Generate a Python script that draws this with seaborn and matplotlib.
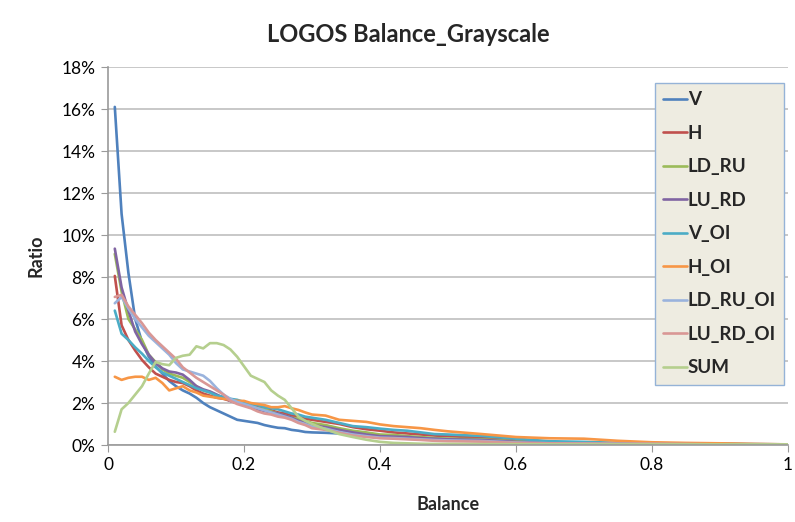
import matplotlib
matplotlib.use("Agg")
import matplotlib.pyplot as plt
import seaborn as sns
import pandas as pd
from matplotlib.ticker import PercentFormatter, FuncFormatter

# balance bins (x) and ratio in % for each orientation
balance = [0.01, 0.02, 0.03, 0.04, 0.05, 0.06, 0.07, 0.08, 0.09, 0.10,
           0.11, 0.12, 0.13, 0.14, 0.15, 0.16, 0.17, 0.18, 0.19, 0.20,
           0.21, 0.22, 0.23, 0.24, 0.25, 0.26, 0.27, 0.28, 0.29, 0.30,
           0.32, 0.34, 0.36, 0.38, 0.40, 0.42, 0.44, 0.46, 0.48, 0.50,
           0.55, 0.60, 0.65, 0.70, 0.75, 0.80, 0.85, 0.90, 0.95, 1.00]

V = [16.1, 11.0, 8.2, 6.0, 4.9, 4.2, 3.75, 3.4, 3.05, 2.8,
     2.6, 2.45, 2.25, 2.0, 1.8, 1.65, 1.5, 1.35, 1.2, 1.15,
     1.1, 1.05, 0.95, 0.88, 0.82, 0.8, 0.72, 0.68, 0.62, 0.6,
     0.58, 0.55, 0.5, 0.42, 0.38, 0.36, 0.34, 0.3, 0.28, 0.28,
     0.24, 0.18, 0.12, 0.1, 0.08, 0.06, 0.05, 0.04, 0.03, 0.02]
H = [8.05, 5.7, 5.0, 4.5, 4.05, 3.7, 3.4, 3.25, 3.1, 3.0,
     2.95, 2.8, 2.6, 2.45, 2.35, 2.25, 2.2, 2.1, 2.0, 1.95,
     1.9, 1.8, 1.7, 1.65, 1.55, 1.5, 1.4, 1.35, 1.25, 1.2,
     1.1, 1.0, 0.85, 0.75, 0.68, 0.6, 0.55, 0.5, 0.45, 0.42,
     0.35, 0.25, 0.12, 0.1, 0.08, 0.07, 0.06, 0.05, 0.04, 0.03]
LD_RU = [9.1, 7.3, 6.0, 5.5, 5.0, 4.3, 3.95, 3.6, 3.4, 3.3,
         3.2, 3.0, 2.8, 2.6, 2.5, 2.35, 2.25, 2.15, 2.05, 1.95,
         1.85, 1.75, 1.7, 1.6, 1.5, 1.4, 1.3, 1.25, 1.15, 1.05,
         0.95, 0.8, 0.68, 0.6, 0.5, 0.48, 0.42, 0.38, 0.33, 0.3,
         0.27, 0.18, 0.1, 0.08, 0.07, 0.06, 0.05, 0.04, 0.03, 0.02]
LU_RD = [9.35, 7.5, 6.4, 5.4, 4.8, 4.3, 3.9, 3.65, 3.5, 3.45,
         3.35, 3.1, 2.8, 2.65, 2.55, 2.4, 2.25, 2.1, 2.0, 1.9,
         1.8, 1.7, 1.62, 1.55, 1.5, 1.4, 1.3, 1.15, 1.05, 0.95,
         0.85, 0.72, 0.6, 0.5, 0.42, 0.4, 0.38, 0.33, 0.3, 0.27,
         0.24, 0.15, 0.1, 0.08, 0.07, 0.06, 0.05, 0.04, 0.03, 0.02]
V_OI = [6.4, 5.3, 5.0, 4.65, 4.35, 4.0, 3.7, 3.45, 3.3, 3.15,
        3.0, 2.85, 2.7, 2.6, 2.5, 2.35, 2.3, 2.2, 2.15, 2.05,
        1.95, 1.9, 1.8, 1.75, 1.7, 1.6, 1.5, 1.45, 1.35, 1.3,
        1.2, 1.05, 0.9, 0.85, 0.78, 0.72, 0.68, 0.6, 0.52, 0.5,
        0.43, 0.3, 0.18, 0.15, 0.1, 0.08, 0.06, 0.05, 0.04, 0.03]
H_OI = [3.25, 3.1, 3.2, 3.25, 3.25, 3.1, 3.2, 2.95, 2.6, 2.7,
        2.8, 2.6, 2.5, 2.35, 2.3, 2.25, 2.2, 2.15, 2.1, 2.1,
        2.0, 1.95, 1.9, 1.8, 1.8, 1.85, 1.75, 1.67, 1.55, 1.45,
        1.4, 1.2, 1.15, 1.1, 0.98, 0.9, 0.85, 0.8, 0.72, 0.65,
        0.52, 0.38, 0.32, 0.3, 0.2, 0.13, 0.1, 0.08, 0.05, 0.03]
LD_RU_OI = [6.75, 7.05, 6.5, 6.0, 5.6, 5.2, 4.9, 4.6, 4.3, 3.9,
            3.6, 3.5, 3.4, 3.3, 3.05, 2.7, 2.4, 2.2, 2.05, 1.95,
            1.85, 1.75, 1.65, 1.55, 1.45, 1.35, 1.25, 1.1, 1.0, 0.88,
            0.78, 0.62, 0.5, 0.42, 0.35, 0.33, 0.3, 0.27, 0.24, 0.22,
            0.19, 0.12, 0.08, 0.07, 0.06, 0.05, 0.04, 0.03, 0.03, 0.02]
LU_RD_OI = [7.05, 7.15, 6.6, 6.2, 5.8, 5.35, 5.0, 4.7, 4.4, 4.1,
            3.7, 3.45, 3.2, 3.0, 2.8, 2.6, 2.4, 2.1, 1.95, 1.85,
            1.75, 1.6, 1.5, 1.45, 1.35, 1.3, 1.2, 1.05, 0.95, 0.8,
            0.72, 0.58, 0.45, 0.38, 0.32, 0.3, 0.27, 0.24, 0.2, 0.18,
            0.16, 0.1, 0.08, 0.07, 0.06, 0.05, 0.04, 0.03, 0.03, 0.02]
SUM = [0.63, 1.7, 2.0, 2.4, 2.8, 3.4, 3.95, 3.85, 3.8, 4.15,
       4.25, 4.3, 4.7, 4.6, 4.85, 4.85, 4.76, 4.55, 4.2, 3.75,
       3.3, 3.15, 3.0, 2.6, 2.35, 2.15, 1.75, 1.35, 1.15, 1.0,
       0.75, 0.52, 0.38, 0.25, 0.15, 0.1, 0.08, 0.06, 0.05, 0.05,
       0.04, 0.04, 0.03, 0.03, 0.03, 0.03, 0.03, 0.03, 0.03, 0.03]

series_names = ["V", "H", "LD_RU", "LU_RD", "V_OI", "H_OI", "LD_RU_OI", "LU_RD_OI", "SUM"]
colors = ["#4F81BD", "#C0504D", "#9BBB59", "#8064A2", "#4BACC6",
          "#F79646", "#9AB3DD", "#D99795", "#B5CF8E"]

wide = pd.DataFrame({"Balance": balance, "V": V, "H": H, "LD_RU": LD_RU, "LU_RD": LU_RD,
                     "V_OI": V_OI, "H_OI": H_OI, "LD_RU_OI": LD_RU_OI,
                     "LU_RD_OI": LU_RD_OI, "SUM": SUM})
df = wide.melt(id_vars="Balance", var_name="series", value_name="Ratio")

sns.set_style("white")
plt.rcParams["font.family"] = ["Lato", "DejaVu Sans"]

fig = plt.figure(figsize=(7.95, 5.22), dpi=100)
ax = fig.add_axes([108 / 795, 1 - 445 / 522, 680 / 795, 378 / 522])

sns.lineplot(data=df, x="Balance", y="Ratio", hue="series", hue_order=series_names,
             palette=dict(zip(series_names, colors)), linewidth=1.9, ax=ax)

ax.set_xlim(0, 1)
ax.set_ylim(0, 18)
ax.set_yticks(range(0, 19, 2))
ax.set_xticks([0, 0.2, 0.4, 0.6, 0.8, 1.0])
ax.yaxis.set_major_formatter(PercentFormatter(xmax=100, decimals=0))
ax.xaxis.set_major_formatter(FuncFormatter(lambda v, p: "0" if v == 0 else ("1" if v == 1 else f"{v:.1f}")))
ax.grid(axis="y", color="#C4C4C4", linewidth=1.3)
ax.set_axisbelow(True)
for s in ["top", "right"]:
    ax.spines[s].set_visible(False)
for s in ["left", "bottom"]:
    ax.spines[s].set_color("#9A9A9A")
    ax.spines[s].set_linewidth(1.2)
ax.tick_params(axis="both", direction="out", length=5, color="#9A9A9A", labelsize=12.5,
               labelcolor="black", bottom=True, left=True, pad=4)

ax.set_xlabel("Balance", fontsize=13, fontweight="bold", labelpad=16)
ax.set_ylabel("Ratio", fontsize=13, fontweight="bold", labelpad=12)
fig.text(408 / 795, 1 - 35 / 522, "LOGOS Balance_Grayscale", ha="center", va="center",
         fontsize=17, fontweight="bold")

leg = ax.legend(loc="upper left", bbox_to_anchor=(655 / 795, 1 - 83 / 522),
                bbox_transform=fig.transFigure, frameon=True, fancybox=False,
                fontsize=13.5, handlelength=1.25, handletextpad=0.05,
                labelspacing=0.88, borderpad=0.45, borderaxespad=0)
leg.get_frame().set_facecolor("#EEECE1")
leg.get_frame().set_edgecolor("#95B3D7")
leg.get_frame().set_linewidth(1.0)
leg.get_frame().set_alpha(1)
for t in leg.get_texts():
    t.set_fontweight("bold")

fig.savefig("out.png", dpi=100)
